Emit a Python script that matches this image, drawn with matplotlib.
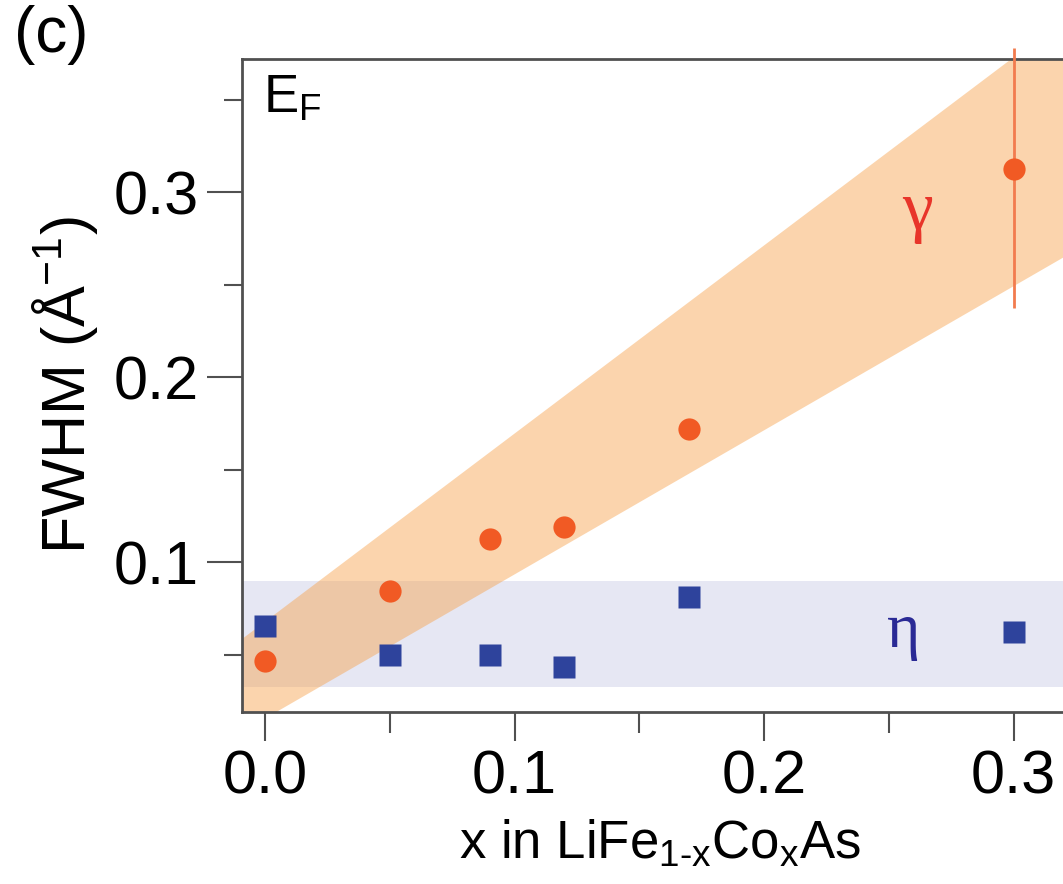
import numpy as np
import matplotlib.pyplot as plt
from matplotlib.ticker import MultipleLocator

plt.rcParams['font.family'] = ['Liberation Sans', 'DejaVu Sans']
plt.rcParams['mathtext.fontset'] = 'custom'
plt.rcParams['mathtext.rm'] = 'Liberation Sans'
plt.rcParams['mathtext.it'] = 'Liberation Sans:italic'
plt.rcParams['mathtext.default'] = 'regular'

# gamma band (orange circles)
x_gamma = [0.0, 0.05, 0.09, 0.12, 0.17, 0.30]
fwhm_gamma = [0.0465, 0.0843, 0.1124, 0.1189, 0.1719, 0.3124]
err_gamma_lo = [0, 0, 0, 0, 0, 0.075]
err_gamma_hi = [0, 0, 0, 0, 0, 0.0656]

# eta band (blue squares)
x_eta = [0.0, 0.05, 0.09, 0.12, 0.17, 0.30]
fwhm_eta = [0.0654, 0.0497, 0.0497, 0.0432, 0.081, 0.0622]

# shaded guides
band_x = [-0.0092, 0.3198]
band_lo = [0.0087, 0.265]
band_hi = [0.0589, 0.3935]
eta_band = [0.0324, 0.0897]

xlim = (-0.0092, 0.3198)
ylim = (0.019, 0.372)

fig = plt.figure(figsize=(10.63, 8.84), dpi=100)
ax = fig.add_axes([0.2277, 0.1946, 0.7723, 0.7387])

spine_c = '#505050'

ax.axhspan(eta_band[0], eta_band[1], color='#e6e7f3', lw=0, zorder=1)
ax.fill_between(band_x, band_lo, band_hi, color='#f7a14a', alpha=0.45, lw=0, zorder=2)

ax.errorbar(x_gamma, fwhm_gamma, yerr=[err_gamma_lo, err_gamma_hi], fmt='none',
            ecolor='#f27b4e', elinewidth=2, capsize=0, zorder=3, clip_on=False)
ax.plot(x_gamma, fwhm_gamma, 'o', color='#f15a24', ms=16, mec='none', zorder=4)
ax.plot(x_eta, fwhm_eta, 's', color='#2e439c', ms=16, mec='none', zorder=4)

ax.text(0.2613, 0.289, 'γ', color='#e8352a', fontsize=50, family='Liberation Serif',
        ha='center', va='center')
ax.text(0.256, 0.062, 'η', color='#2a2a95', fontsize=46, family='Liberation Serif',
        ha='center', va='center')
ax.text(0.025, 0.978, 'E$_F$', transform=ax.transAxes, fontsize=38, va='top', ha='left')

ax.set_xlim(*xlim)
ax.set_ylim(*ylim)

ax.xaxis.set_major_locator(MultipleLocator(0.1))
ax.xaxis.set_minor_locator(MultipleLocator(0.05))
ax.yaxis.set_major_locator(MultipleLocator(0.1))
ax.yaxis.set_minor_locator(MultipleLocator(0.05))
ax.xaxis.set_major_formatter(plt.FormatStrFormatter('%.1f'))
ax.yaxis.set_major_formatter(plt.FormatStrFormatter('%.1f'))

ax.tick_params(axis='x', which='major', direction='out', length=21, width=1.5,
               color=spine_c, labelsize=44, pad=6)
ax.tick_params(axis='x', which='minor', direction='out', length=15, width=1.5, color=spine_c)
ax.tick_params(axis='y', which='major', direction='out', length=25, width=1.5,
               color=spine_c, labelsize=44, pad=6)
ax.tick_params(axis='y', which='minor', direction='out', length=13, width=1.5, color=spine_c)

for s in ['left', 'bottom', 'top']:
    ax.spines[s].set_color(spine_c)
    ax.spines[s].set_linewidth(2)
ax.spines['right'].set_visible(False)

ax.set_xlabel('x in LiFe$_{1\u2010x}$Co$_x$As', fontsize=38)
ax.xaxis.set_label_coords(0.509, -0.163)
ax.set_ylabel('FWHM (Å$^{-1}$)', fontsize=44)
ax.yaxis.set_label_coords(-0.173, 0.5)

fig.text(0.013, 0.994, '(c)', fontsize=46, va='top', ha='left')

fig.savefig('out.png', dpi=100)
